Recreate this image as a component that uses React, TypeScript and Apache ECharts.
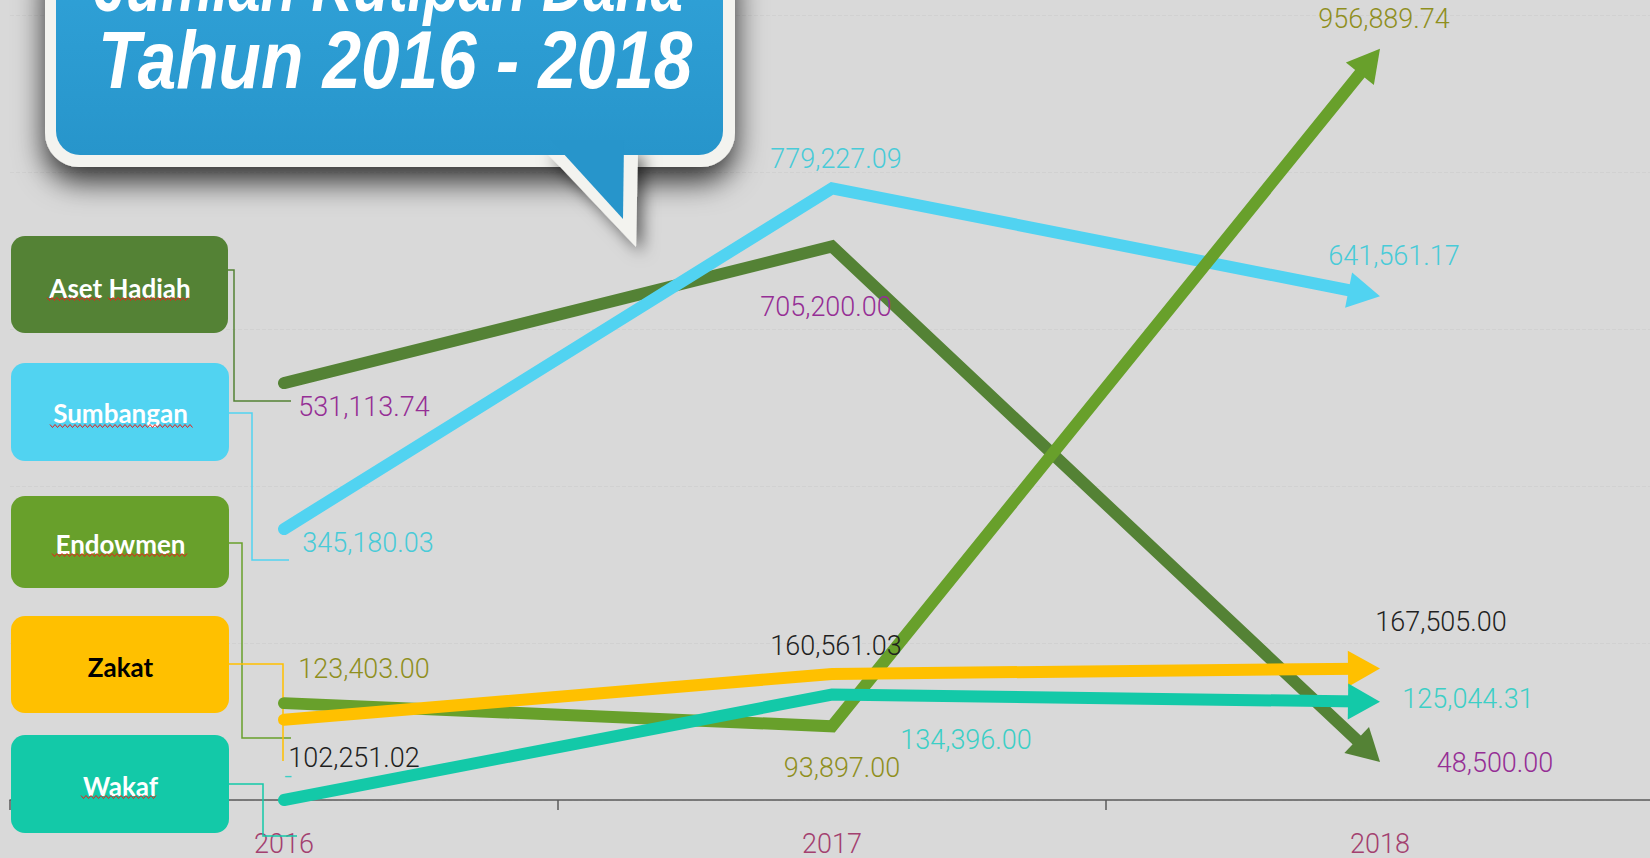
import React, { useEffect, useRef } from "react";
import * as echarts from "echarts";

// ---------- data ----------
const years = ["2016", "2017", "2018"];
const seriesNames = ["Aset Hadiah", "Sumbangan", "Endowmen", "Zakat", "Wakaf"];
const asetHadiah = [531113.74, 705200.0, 48500.0];
const sumbangan = [345180.03, 779227.09, 641561.17];
const endowmen = [123403.0, 93897.0, 956889.74];
const zakat = [102251.02, 160561.03, 167505.0];
const wakaf = [0, 134396.0, 125044.31];
const yMin = 0;
const yMax = 1000000;
const yStep = 200000;
const titleLine1 = "Jumlah Kutipan Dana";
const titleLine2 = "Tahun 2016 - 2018";

// ---------- styles ----------
const lineColors = ["#548235", "#51d3f1", "#68a02b", "#ffc000", "#13c9a8"];
const labelColors = ["#952e95", "#48cbd8", "#8f8f1e", "#1f1f1f", "#3ccfc6"];
// label centre offsets from each point (px)
const labelOffsets: number[][][] = [
  [[80, 24], [-6, 61], [115, 1]],
  [[84, 14], [4, -29], [14, -40]],
  [[80, -34], [10, 42], [4, -30]],
  [[70, 38], [4, -28], [61, -47]],
  [[4, -24], [134, 46], [88, -3]],
];
const allValues = [asetHadiah, sumbangan, endowmen, zakat, wakaf];

const fmt = (v: number) =>
  v === 0
    ? "-"
    : v.toLocaleString("en-US", { minimumFractionDigits: 2, maximumFractionDigits: 2 });

function makeRenderItem(values: number[], idx: number) {
  const color = lineColors[idx];
  return (params: any, api: any) => {
    if (params.dataIndex !== 0) return { type: "group", children: [] };
    const pts = values.map((v, i) => api.coord([i, v]));
    const n = pts.length;
    const tip = pts[n - 1];
    const prev = pts[n - 2];
    const dx = tip[0] - prev[0];
    const dy = tip[1] - prev[1];
    const len = Math.hypot(dx, dy);
    const ux = dx / len;
    const uy = dy / len;
    const px = -uy;
    const py = ux;
    const AL = 32;
    const AW = 18;
    const lineEnd = [tip[0] - ux * 20, tip[1] - uy * 20];
    const base = [tip[0] - ux * AL, tip[1] - uy * AL];
    const children: any[] = [
      {
        type: "polyline",
        shape: { points: [...pts.slice(0, n - 1), lineEnd] },
        style: { stroke: color, lineWidth: 12, lineCap: "round", lineJoin: "miter", fill: "none" },
      },
      {
        type: "polygon",
        shape: {
          points: [
            tip,
            [base[0] + px * AW, base[1] + py * AW],
            [base[0] - px * AW, base[1] - py * AW],
          ],
        },
        style: { fill: color },
      },
    ];
    values.forEach((v, i) => {
      const off = labelOffsets[idx][i];
      children.push({
        type: "text",
        x: pts[i][0] + off[0],
        y: pts[i][1] + off[1],
        style: {
          text: fmt(v),
          fill: labelColors[idx],
          fontSize: 27,
          fontFamily: "Roboto",
          fontWeight: 300,
          align: "center",
          verticalAlign: "middle",
          textAlign: "center",
          textVerticalAlign: "middle",
        },
      });
    });
    return { type: "group", children };
  };
}

// ---------- decorations ----------
function zigzag(x1: number, x2: number, y: number) {
  const pts: number[][] = [];
  let up = true;
  for (let x = x1; x <= x2; x += 2.5) {
    pts.push([x, up ? y - 1.5 : y + 1.5]);
    up = !up;
  }
  return {
    type: "polyline",
    z: 12,
    shape: { points: pts },
    style: { stroke: "#e8201c", lineWidth: 1, fill: "none" },
  };
}

const boxes = [
  { name: seriesNames[0], x: 11, y: 236, w: 217, h: 97, ty: 288, color: lineColors[0], text: "#ffffff" },
  { name: seriesNames[1], x: 11, y: 363, w: 218, h: 98, ty: 413, color: lineColors[1], text: "#ffffff" },
  { name: seriesNames[2], x: 11, y: 496, w: 218, h: 92, ty: 544, color: lineColors[2], text: "#ffffff" },
  { name: seriesNames[3], x: 11, y: 616, w: 218, h: 97, ty: 667, color: lineColors[3], text: "#000000" },
  { name: seriesNames[4], x: 11, y: 735, w: 218, h: 98, ty: 786, color: lineColors[4], text: "#ffffff" },
];

const connectors = [
  [[228, 270], [234, 270], [234, 401], [291, 401]],
  [[229, 413], [252, 413], [252, 560], [289, 560]],
  [[229, 543], [242, 543], [242, 738], [291, 738]],
  [[229, 664], [283, 664], [283, 761]],
  [[229, 784], [263, 784], [263, 836], [297, 836]],
];

const underlines = [
  [47, 101, 299],
  [108, 190, 299],
  [50, 193, 426],
  [52, 188, 555],
  [81, 157, 797],
];

function buildGraphic() {
  const els: any[] = [];
  // speech bubble
  els.push({
    type: "rect",
    z: 10,
    shape: { x: 45, y: -60, width: 690, height: 227, r: 34 },
    style: {
      fill: "#f3f3ef",
      shadowBlur: 30,
      shadowColor: "rgba(0,0,0,0.8)",
      shadowOffsetY: 14,
    },
  });
  els.push({
    type: "polygon",
    z: 10,
    shape: { points: [[544, 150], [638, 150], [636, 247]] },
    style: {
      fill: "#f3f3ef",
      shadowBlur: 16,
      shadowColor: "rgba(0,0,0,0.55)",
      shadowOffsetX: 6,
      shadowOffsetY: 6,
    },
  });
  els.push({
    type: "rect",
    z: 11,
    shape: { x: 45, y: -60, width: 690, height: 215, r: 34 },
    style: { fill: "#f3f3ef" },
  });
  const blueGrad = new echarts.graphic.LinearGradient(0, 0, 0, 1, [
    { offset: 0, color: "#31a3d9" },
    { offset: 1, color: "#2795cb" },
  ]);
  els.push({
    type: "rect",
    z: 12,
    shape: { x: 56, y: -60, width: 667, height: 215, r: 24 },
    style: { fill: blueGrad },
  });
  els.push({
    type: "polygon",
    z: 12,
    shape: { points: [[551, 140], [624, 140], [623, 219]] },
    style: { fill: "#2795cb" },
  });
  els.push({
    type: "text",
    z: 13,
    x: 94,
    y: -14,
    scaleX: 0.8,
    style: {
      text: titleLine1,
      fill: "#ffffff",
      fontSize: 72,
      fontWeight: "bold",
      fontStyle: "italic",
      fontFamily: "Liberation Sans",
      align: "left",
      verticalAlign: "middle",
      textAlign: "left",
      textVerticalAlign: "middle",
    },
  });
  els.push({
    type: "text",
    z: 13,
    x: 98,
    y: 59,
    scaleX: 0.845,
    style: {
      text: titleLine2,
      fill: "#ffffff",
      fontSize: 82,
      fontWeight: "bold",
      fontStyle: "italic",
      fontFamily: "Liberation Sans",
      align: "left",
      verticalAlign: "middle",
      textAlign: "left",
      textVerticalAlign: "middle",
    },
  });
  // connectors
  connectors.forEach((pts, i) => {
    els.push({
      type: "polyline",
      z: 1,
      shape: { points: pts },
      style: { stroke: lineColors[i], lineWidth: 1.5, fill: "none" },
    });
  });
  // legend boxes
  boxes.forEach((b) => {
    els.push({
      type: "rect",
      z: 10,
      shape: { x: b.x, y: b.y, width: b.w, height: b.h, r: 14 },
      style: { fill: b.color },
    });
    els.push({
      type: "text",
      z: 11,
      x: b.x + b.w / 2 + 0.5,
      y: b.ty,
      style: {
        text: b.name,
        fill: b.text,
        fontSize: 26,
        fontWeight: "bold",
        fontFamily: "Lato",
        align: "center",
        verticalAlign: "middle",
        textAlign: "center",
        textVerticalAlign: "middle",
      },
    });
  });
  underlines.forEach((u) => els.push(zigzag(u[0], u[1], u[2])));
  return els;
}

export default function App() {
  const ref = useRef<HTMLDivElement>(null);
  useEffect(() => {
    const chart = echarts.init(ref.current!, null, { renderer: "svg" });
    const option: any = {
      animation: false,
      backgroundColor: "#d9d9d9",
      grid: {
        left: 10,
        top: 15,
        width: 1644,
        height: 785,
        containLabel: false,
        outerBoundsMode: "none",
      },
      xAxis: {
        type: "category",
        data: years,
        boundaryGap: true,
        axisLine: { show: true, lineStyle: { color: "#5a5a5a", width: 1.5 } },
        axisTick: { show: true, length: 10, lineStyle: { color: "#5a5a5a", width: 1.5 } },
        axisLabel: {
          color: "#a3406f",
          fontSize: 27,
          fontFamily: "Roboto",
          fontWeight: 300,
          margin: 30,
        },
        splitLine: { show: false },
      },
      yAxis: {
        type: "value",
        min: yMin,
        max: yMax,
        interval: yStep,
        axisLine: { show: false },
        axisTick: { show: false },
        axisLabel: { show: false },
        splitLine: { show: true, lineStyle: { color: "#d1d1d1", type: "dashed", width: 1 } },
      },
      series: allValues.map((vals, idx) => ({
        type: "custom",
        name: seriesNames[idx],
        coordinateSystem: "cartesian2d",
        silent: true,
        z: 2 + idx,
        data: vals.map((v, i) => [i, v]),
        encode: { x: 0, y: 1 },
        renderItem: makeRenderItem(vals, idx),
      })),
      graphic: { elements: buildGraphic() },
    };
    chart.setOption(option);
    return () => chart.dispose();
  }, []);
  return (
    <div
      ref={ref}
      style={{ position: "fixed", left: 0, top: 0, width: 1650, height: 858 }}
    />
  );
}
